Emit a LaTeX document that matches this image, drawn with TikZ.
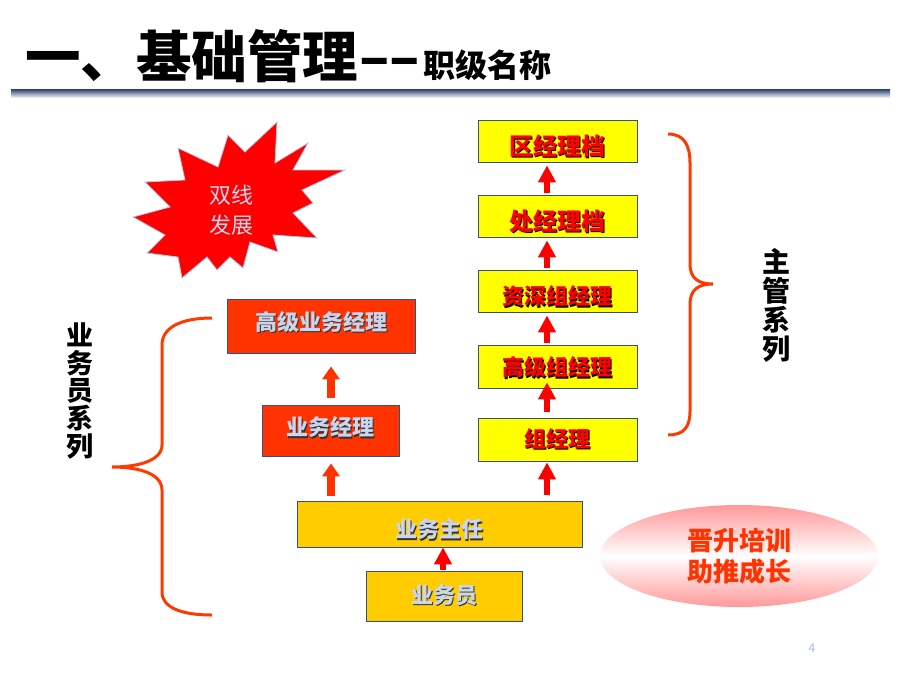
\documentclass[tikz,border=0pt]{standalone}
\usepackage{fontspec}
\setmainfont{Noto Sans CJK SC}
\usetikzlibrary{arrows.meta,shapes.geometric}
\definecolor{gradeyellow}{HTML}{FFFF00}
\definecolor{salesred}{HTML}{FF3300}
\definecolor{basegold}{HTML}{FFCC00}
\definecolor{boxline}{HTML}{2F528F}
\definecolor{arrowred}{HTML}{FF0000}
\definecolor{curlyred}{HTML}{FF3A00}
\definecolor{paleblue}{HTML}{C9D6EE}
\definecolor{burstline}{HTML}{B4C7E7}
\definecolor{ovalpink}{HTML}{FF9999}
\definecolor{pagegray}{HTML}{A6B8DA}
\definecolor{barnavy}{HTML}{2B3F6B}
\definecolor{barlight}{HTML}{E4E9F1}
\newcommand\shtxt[4][0pt]{\raisebox{#1}[\height][\depth]{\makebox[0pt][l]{\hspace{1.3pt}\raisebox{-1.3pt}{\color{#2}#4}}{\color{#3}#4}}}

\begin{document}
\begin{tikzpicture}[x=1pt,y=-1pt]
   \tikzset{
      box/.style={draw=boxline,line width=0.8pt,inner sep=0pt,font=\bfseries\fontsize{22}{22}\selectfont},
      gradebox/.style={box,fill=gradeyellow,minimum width=159pt,minimum height=42pt},
      bigtext/.style={font=\bfseries\fontsize{24}{24}\selectfont},
      salesbox/.style={box,fill=salesred},
      basebox/.style={box,fill=basegold},
      uparrow/.style={arrowred,line width=6.5pt,-{Triangle[width=17pt,length=17pt]}},
      salesarrow/.style={salesred,line width=8pt,-{Triangle[width=17pt,length=13pt]}},
      curly/.style={curlyred,line width=3pt},
      series/.style={align=center,inner sep=0pt}
   }
   \useasboundingbox (0,0) rectangle (900,675);
   \node[anchor=base west,inner sep=0pt,font=\bfseries\fontsize{55.5}{55.5}\selectfont] (title) at (25,77)
      {一、基础管理\hspace{1pt}––\hspace{3pt}{\fontsize{32}{32}\selectfont 职级名称}};
   \shade[top color=barnavy,bottom color=barlight] (11,89) rectangle (890,97);

   \filldraw[fill=arrowred,draw=burstline,line width=0.8pt]
      (277,122) -- (275,163) -- (308,143) -- (293,170) -- (345,170) -- (302,190)
      -- (313,203) -- (293,213) -- (317,238) -- (273,235) -- (278,252) -- (250,242)
      -- (243,268) -- (230,257) -- (217,270) -- (207,257) -- (182,278) -- (178,257)
      -- (147,253) -- (165,235) -- (133,217) -- (170,207) -- (145,182) -- (185,180)
      -- (178,148) -- (218,167) -- (228,135) -- (245,152) -- cycle;
   \node[series,text=paleblue,font=\fontsize{22}{30}\selectfont] (burst) at (231,210) {双线\\发展};

   \node[gradebox,bigtext] (qj) at (557.5,141) {\shtxt[-6pt]{black}{arrowred}{区经理档}};
   \node[gradebox,bigtext] (cj) at (557.5,216) {\shtxt[-6pt]{black}{arrowred}{处经理档}};
   \node[gradebox] (zs) at (557.5,291) {\shtxt[-6pt]{black}{arrowred}{资深组经理}};
   \node[gradebox,minimum height=43pt] (gz) at (557.5,366.5) {\shtxt[-1.5pt]{black}{arrowred}{高级组经理}};
   \node[gradebox,minimum height=43pt] (zj) at (557.5,439.5) {\shtxt{black}{arrowred}{组经理}};

   \node[salesbox,minimum width=188pt,minimum height=54pt] (gy) at (321,326) {\shtxt[3.5pt]{black!80}{paleblue}{高级业务经理}};
   \node[salesbox,minimum width=137pt,minimum height=51pt] (yw) at (330.5,430.5) {\shtxt[2.5pt]{black!80}{paleblue}{业务经理}};
   \node[basebox,minimum width=285pt,minimum height=46pt] (zr) at (439.5,524) {\shtxt[-6pt]{black!80}{paleblue}{业务主任}};
   \node[basebox,minimum width=156pt,minimum height=50pt] (yy) at (444,596) {\shtxt{black!80}{paleblue}{业务员}};

   \coordinate (ax) at (547,0);
   \coordinate (bx) at (331,0);
   \coordinate (cx) at (443,0);
   \draw[uparrow,shorten <=2pt,shorten >=3pt] (cj.north -| ax) -- (qj.south -| ax);
   \draw[uparrow,shorten <=2pt,shorten >=3pt] (zs.north -| ax) -- (cj.south -| ax);
   \draw[uparrow,shorten <=2pt,shorten >=3pt] (gz.north -| ax) -- (zs.south -| ax);
   \draw[uparrow,shorten <=6pt,shorten >=-6pt] (zj.north -| ax) -- (gz.south -| ax);
   \draw[uparrow,shorten <=6pt,shorten >=1pt] (zr.north -| ax) -- (zj.south -| ax);
   \draw[salesarrow,shorten <=7pt,shorten >=13pt] (yw.north -| bx) -- (gy.south -| bx);
   \draw[salesarrow,shorten <=5pt,shorten >=7pt] (zr.north -| bx) -- (yw.south -| bx);
   \draw[uparrow,shorten <=1pt] (yy.north -| cx) -- (zr.south -| cx);

   \draw[curly] (668,134) .. controls (684,134) and (690,145) .. (690,163) -- (690,264)
      .. controls (690,278) and (698,284) .. (713,284) .. controls (698,284) and (690,290) .. (690,304)
      -- (690,411) .. controls (690,427) and (684,435) .. (668,435);
   \draw[curly] (212,318) .. controls (180,318) and (162,328) .. (162,345) -- (162,445)
      .. controls (162,460) and (140,467) .. (112,467) .. controls (140,467) and (162,474) .. (162,490)
      -- (162,592) .. controls (162,607) and (180,615) .. (212,615);
   \node[series,font=\bfseries\fontsize{28}{28.75}\selectfont] (zgxl) at (776,305.5) {主\\管\\系\\列};
   \node[series,font=\bfseries\fontsize{27}{27.6}\selectfont] (ywxl) at (80,391) {业\\务\\员\\系\\列};

   \node[ellipse,minimum width=278pt,minimum height=102pt,inner sep=0pt,
      top color=ovalpink,bottom color=ovalpink,middle color=white] (oval) at (739,556) {};
   \node[series,text=salesred,font=\bfseries\fontsize{26}{31}\selectfont] (motto) at (oval) {晋升培训\\助推成长};
   \node[text=pagegray,font=\fontsize{12}{12}\selectfont] (page) at (812,648) {4};
\end{tikzpicture}
\end{document}
